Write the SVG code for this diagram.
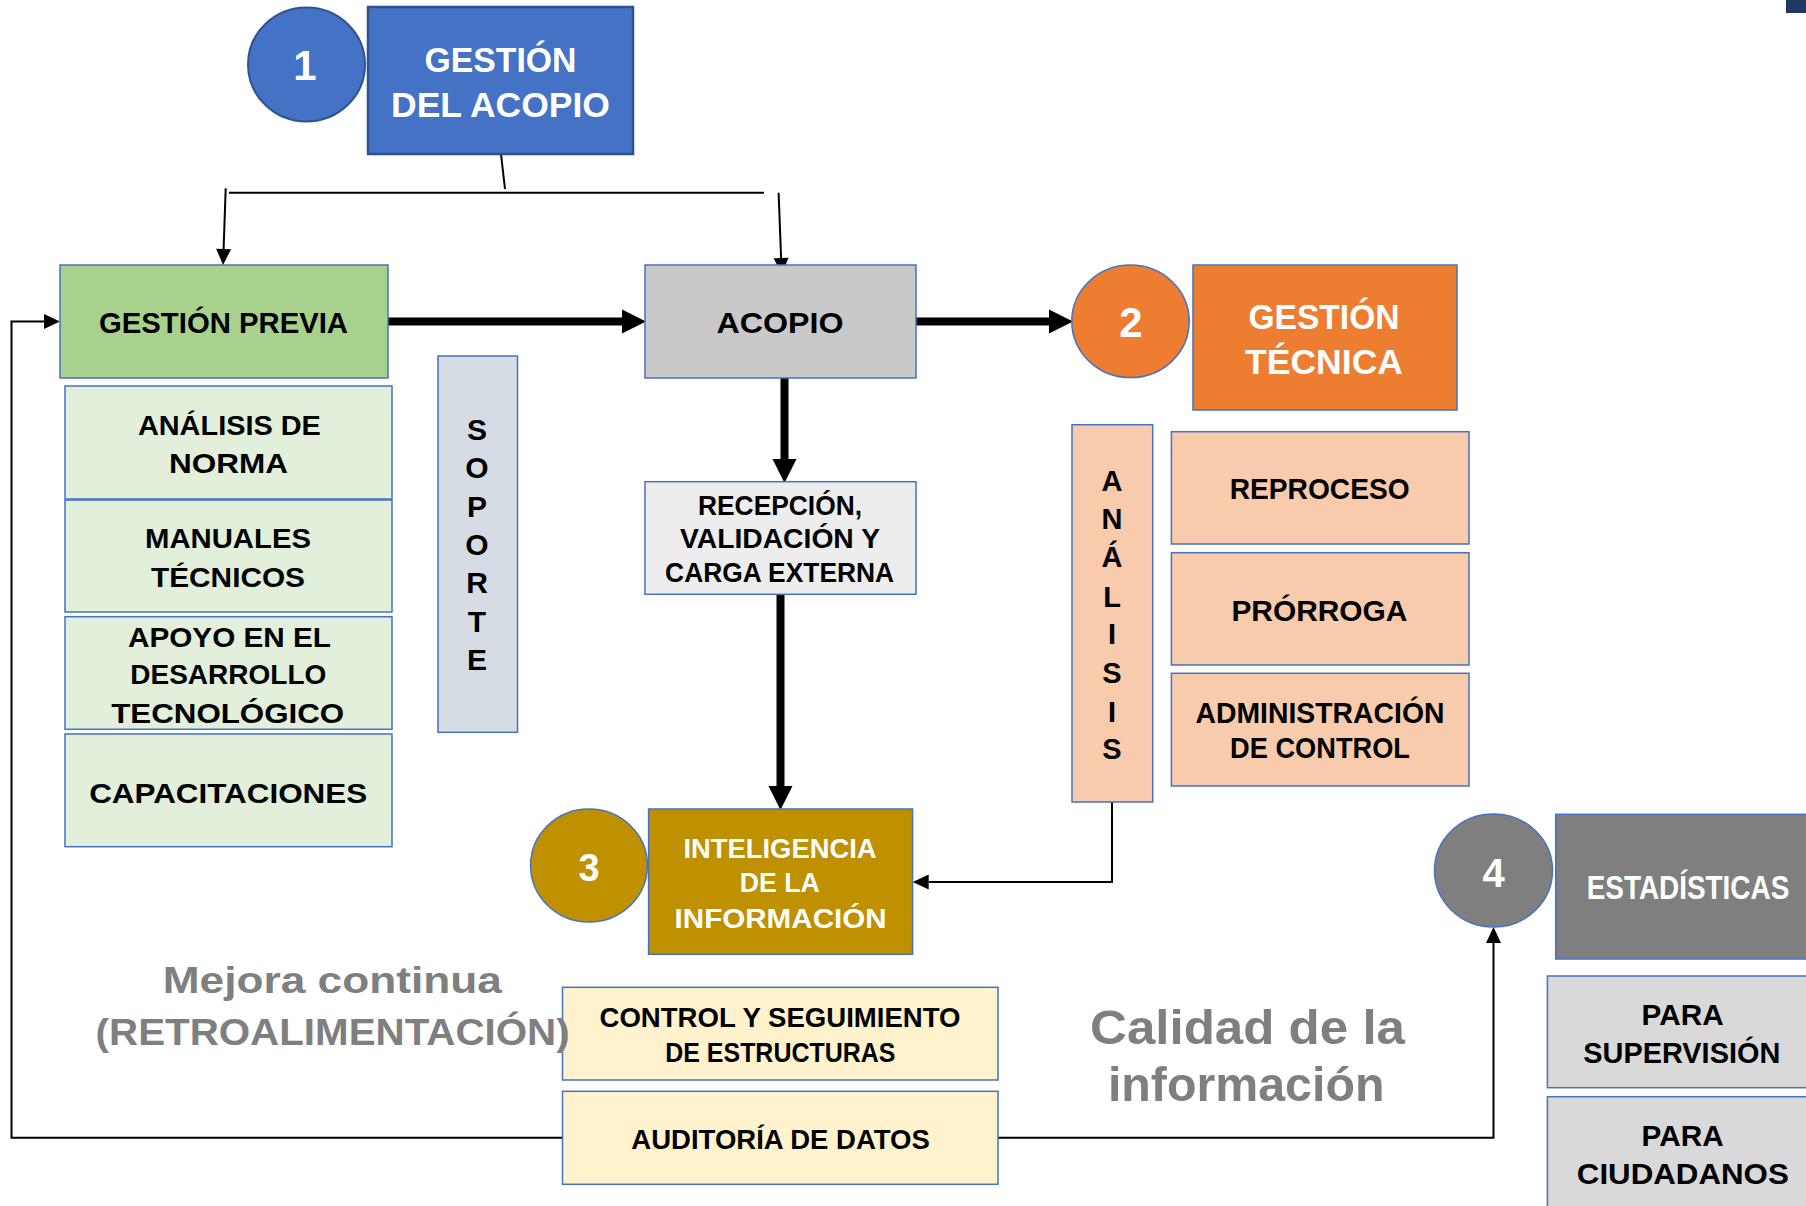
<svg xmlns="http://www.w3.org/2000/svg" width="1806" height="1206" viewBox="0 0 1806 1206">
<style>
text{font-family:"Liberation Sans",Arial,sans-serif;font-weight:bold;text-anchor:middle}
.box{stroke:#4472C4;stroke-width:1.5}
.dk{fill:#000}
.wt{fill:#fff}
.gray{fill:#7F7F7F}
.thin{fill:none;stroke:#000;stroke-width:2}
.thick{fill:none;stroke:#000;stroke-width:8}
</style>
<defs>
<marker id="ah" markerUnits="userSpaceOnUse" markerWidth="16" markerHeight="15" refX="0" refY="7.5" orient="auto" overflow="visible">
<path d="M0,0 L16,7.5 L0,15 Z" fill="#000"/>
</marker>
<marker id="ahT" markerUnits="userSpaceOnUse" markerWidth="24" markerHeight="24" refX="0" refY="12" orient="auto" overflow="visible">
<path d="M0,0 L24,12 L0,24 Z" fill="#000"/>
</marker>
</defs>
<rect width="1806" height="1206" fill="#fff"/>
<rect x="1786" y="0" width="20" height="13" fill="#1F3864"/>

<g id="connectors">
<line class="thin" x1="501" y1="154" x2="505" y2="189"/>
<line class="thin" x1="229" y1="192.7" x2="764" y2="192.7"/>
<line class="thin" x1="225.7" y1="188.3" x2="223.6" y2="249" marker-end="url(#ah)"/>
<line class="thin" x1="778.6" y1="192.7" x2="781.1" y2="258" marker-end="url(#ah)"/>
<line class="thick" x1="388" y1="321.5" x2="622" y2="321.5" marker-end="url(#ahT)"/>
<line class="thick" x1="916" y1="321.5" x2="1049" y2="321.5" marker-end="url(#ahT)"/>
<line class="thick" x1="784.5" y1="378" x2="784.5" y2="459" marker-end="url(#ahT)"/>
<line class="thick" x1="780.5" y1="594.3" x2="780.5" y2="786" marker-end="url(#ahT)"/>
<path class="thin" d="M1112,802 V882 H928.7" stroke-width="2.5" marker-end="url(#ah)"/>
<path class="thin" d="M562.5,1137.7 H11.5 V321.5 H44" stroke-width="3" marker-end="url(#ah)"/>
<path class="thin" d="M998,1137.7 H1493.5 V943" stroke-width="2.5" marker-end="url(#ah)"/>
</g>

<g id="n1-circle">
<ellipse cx="306.5" cy="64.5" rx="58.5" ry="57" fill="#4472C4" stroke="#2F528F" stroke-width="2"/>
<text class="wt" x="305" y="80" font-size="42">1</text>
</g>
<g id="gestion-acopio">
<rect x="368" y="7" width="265" height="147" fill="#4472C4" stroke="#2F528F" stroke-width="2.5"/>
<text class="wt" x="500.5" y="71.7" font-size="35" textLength="152" lengthAdjust="spacingAndGlyphs">GESTIÓN</text>
<text class="wt" x="500.5" y="116.7" font-size="35" textLength="219" lengthAdjust="spacingAndGlyphs">DEL ACOPIO</text>
</g>

<g id="gestion-previa">
<rect class="box" x="60" y="265" width="328" height="113" fill="#A9D18E"/>
<text class="dk" x="223.5" y="333" font-size="30" textLength="249" lengthAdjust="spacingAndGlyphs">GESTIÓN PREVIA</text>
</g>
<g id="acopio">
<rect class="box" x="645" y="265" width="271" height="113" fill="#C9C9C9"/>
<text class="dk" x="780" y="333.3" font-size="30" textLength="127" lengthAdjust="spacingAndGlyphs">ACOPIO</text>
</g>
<g id="n2-circle">
<ellipse class="box" cx="1130.5" cy="321.3" rx="58.7" ry="56.3" fill="#ED7D31"/>
<text class="wt" x="1131" y="337.3" font-size="42">2</text>
</g>
<g id="gestion-tecnica">
<rect class="box" x="1193" y="265" width="264" height="145" fill="#ED7D31"/>
<text class="wt" x="1324" y="329.3" font-size="35" textLength="151" lengthAdjust="spacingAndGlyphs">GESTIÓN</text>
<text class="wt" x="1324" y="374" font-size="35" textLength="158" lengthAdjust="spacingAndGlyphs">TÉCNICA</text>
</g>

<g id="analisis-norma">
<rect class="box" x="65" y="386" width="327" height="113" fill="#E2EFDA"/>
<text class="dk" x="229.4" y="435" font-size="28" textLength="183" lengthAdjust="spacingAndGlyphs">ANÁLISIS DE</text>
<text class="dk" x="228.4" y="473.3" font-size="28" textLength="119" lengthAdjust="spacingAndGlyphs">NORMA</text>
</g>
<g id="manuales">
<rect class="box" x="65" y="500" width="327" height="112" fill="#E2EFDA"/>
<text class="dk" x="228" y="548.3" font-size="28" textLength="166" lengthAdjust="spacingAndGlyphs">MANUALES</text>
<text class="dk" x="228" y="586.7" font-size="28" textLength="154" lengthAdjust="spacingAndGlyphs">TÉCNICOS</text>
</g>
<g id="apoyo">
<rect class="box" x="65" y="616.7" width="327" height="112.6" fill="#E2EFDA"/>
<text class="dk" x="229.5" y="646.7" font-size="28" textLength="203" lengthAdjust="spacingAndGlyphs">APOYO EN EL</text>
<text class="dk" x="228.3" y="684" font-size="28" textLength="196" lengthAdjust="spacingAndGlyphs">DESARROLLO</text>
<text class="dk" x="227.7" y="722.7" font-size="28" textLength="233" lengthAdjust="spacingAndGlyphs">TECNOLÓGICO</text>
</g>
<g id="capacitaciones">
<rect class="box" x="65" y="734" width="327" height="112.7" fill="#E2EFDA"/>
<text class="dk" x="228.2" y="802.7" font-size="28" textLength="278" lengthAdjust="spacingAndGlyphs">CAPACITACIONES</text>
</g>

<g id="soporte">
<rect class="box" x="438" y="356" width="79.5" height="376.3" fill="#D6DCE4"/>
<text class="dk" x="477" font-size="30"><tspan x="477" y="440">S</tspan><tspan x="477" y="478.3">O</tspan><tspan x="477" y="516.7">P</tspan><tspan x="477" y="555">O</tspan><tspan x="477" y="593.3">R</tspan><tspan x="477" y="631.7">T</tspan><tspan x="477" y="670">E</tspan></text>
</g>

<g id="recepcion">
<rect class="box" x="645" y="481.7" width="271" height="112.6" fill="#EDEDED"/>
<text class="dk" x="780" y="515" font-size="27" textLength="164" lengthAdjust="spacingAndGlyphs">RECEPCIÓN,</text>
<text class="dk" x="780" y="548.3" font-size="27" textLength="200" lengthAdjust="spacingAndGlyphs">VALIDACIÓN Y</text>
<text class="dk" x="779.6" y="582.3" font-size="27" textLength="229" lengthAdjust="spacingAndGlyphs">CARGA EXTERNA</text>
</g>

<g id="analisis">
<rect class="box" x="1072" y="424.7" width="80.7" height="377.3" fill="#F8CBAD"/>
<text class="dk" x="1112" font-size="29"><tspan x="1112" y="490.7">A</tspan><tspan x="1112" y="529.3">N</tspan><tspan x="1112" y="566.7">Á</tspan><tspan x="1112" y="606.7">L</tspan><tspan x="1112" y="644">I</tspan><tspan x="1112" y="683.3">S</tspan><tspan x="1112" y="721.7">I</tspan><tspan x="1112" y="759.3">S</tspan></text>
</g>
<g id="reproceso">
<rect class="box" x="1171.4" y="431.7" width="297.6" height="112.3" fill="#F8CBAD"/>
<text class="dk" x="1319.7" y="499.3" font-size="30" textLength="180" lengthAdjust="spacingAndGlyphs">REPROCESO</text>
</g>
<g id="prorroga">
<rect class="box" x="1171.4" y="552.7" width="297.6" height="112.3" fill="#F8CBAD"/>
<text class="dk" x="1319.4" y="620.7" font-size="30" textLength="176" lengthAdjust="spacingAndGlyphs">PRÓRROGA</text>
</g>
<g id="administracion">
<rect class="box" x="1171.4" y="673.3" width="297.6" height="112.7" fill="#F8CBAD"/>
<text class="dk" x="1320" y="723.3" font-size="30" textLength="249" lengthAdjust="spacingAndGlyphs">ADMINISTRACIÓN</text>
<text class="dk" x="1320" y="758.3" font-size="30" textLength="180" lengthAdjust="spacingAndGlyphs">DE CONTROL</text>
</g>

<g id="n3-circle">
<ellipse class="box" cx="589" cy="865.5" rx="58.4" ry="56.5" fill="#BF9000"/>
<text class="wt" x="589" y="880.7" font-size="38">3</text>
</g>
<g id="inteligencia">
<rect class="box" x="648.6" y="809" width="264" height="145.3" fill="#BF9000"/>
<text class="wt" x="780" y="857.7" font-size="27" textLength="193" lengthAdjust="spacingAndGlyphs">INTELIGENCIA</text>
<text class="wt" x="779.7" y="892.3" font-size="27" textLength="80" lengthAdjust="spacingAndGlyphs">DE LA</text>
<text class="wt" x="780.6" y="928.3" font-size="27" textLength="212" lengthAdjust="spacingAndGlyphs">INFORMACIÓN</text>
</g>

<g id="control">
<rect class="box" x="562.5" y="987.3" width="435.5" height="92.7" fill="#FFF2CC"/>
<text class="dk" x="780" y="1026.7" font-size="28" textLength="361" lengthAdjust="spacingAndGlyphs">CONTROL Y SEGUIMIENTO</text>
<text class="dk" x="780.3" y="1061.7" font-size="28" textLength="230" lengthAdjust="spacingAndGlyphs">DE ESTRUCTURAS</text>
</g>
<g id="auditoria">
<rect class="box" x="562.5" y="1091.3" width="435.5" height="93" fill="#FFF2CC"/>
<text class="dk" x="780.6" y="1149.3" font-size="28" textLength="298.5" lengthAdjust="spacingAndGlyphs">AUDITORÍA DE DATOS</text>
</g>

<g id="mejora-continua">
<text class="gray" x="332.3" y="992.7" font-size="37" textLength="339" lengthAdjust="spacingAndGlyphs">Mejora continua</text>
<text class="gray" x="332.6" y="1045" font-size="37" textLength="474" lengthAdjust="spacingAndGlyphs">(RETROALIMENTACIÓN)</text>
</g>

<g id="calidad">
<text class="gray" x="1247.5" y="1044" font-size="49" textLength="315" lengthAdjust="spacingAndGlyphs">Calidad de la</text>
<text class="gray" x="1246.2" y="1100.7" font-size="49" textLength="276.5" lengthAdjust="spacingAndGlyphs">información</text>
</g>

<g id="n4-circle">
<ellipse class="box" cx="1493.5" cy="870.5" rx="59" ry="56.5" fill="#7F7F7F"/>
<text class="wt" x="1493.7" y="887.3" font-size="40">4</text>
</g>
<g id="estadisticas">
<rect class="box" x="1555.7" y="814.3" width="270" height="144.7" fill="#7F7F7F"/>
<text class="wt" x="1688" y="899" font-size="33" textLength="202.6" lengthAdjust="spacingAndGlyphs">ESTADÍSTICAS</text>
</g>
<g id="para-supervision">
<rect class="box" x="1547.4" y="976" width="280" height="111.7" fill="#D9D9D9"/>
<text class="dk" x="1682.6" y="1025" font-size="30" textLength="82" lengthAdjust="spacingAndGlyphs">PARA</text>
<text class="dk" x="1681.8" y="1063.3" font-size="30" textLength="197" lengthAdjust="spacingAndGlyphs">SUPERVISIÓN</text>
</g>
<g id="para-ciudadanos">
<rect class="box" x="1547.4" y="1096.7" width="280" height="130" fill="#D9D9D9"/>
<text class="dk" x="1682.6" y="1146" font-size="30" textLength="82" lengthAdjust="spacingAndGlyphs">PARA</text>
<text class="dk" x="1682.8" y="1184.3" font-size="30" textLength="212" lengthAdjust="spacingAndGlyphs">CIUDADANOS</text>
</g>
</svg>
